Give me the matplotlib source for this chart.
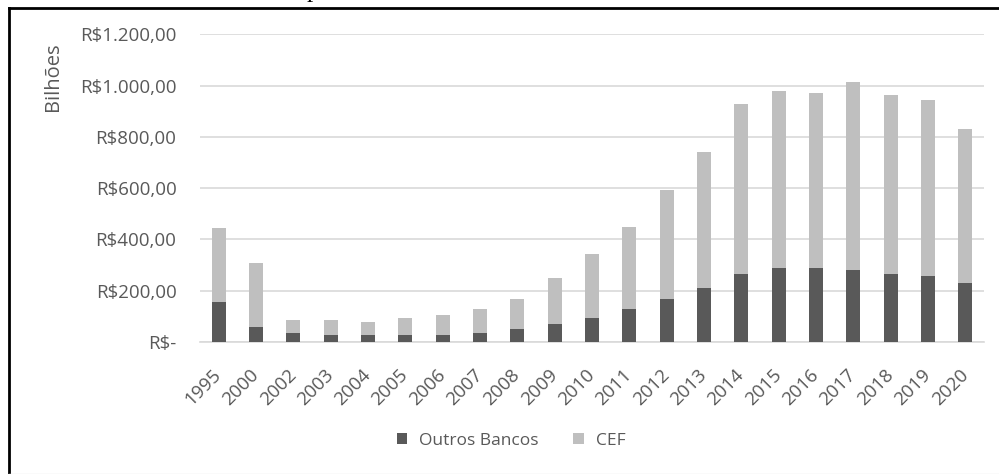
import matplotlib.pyplot as plt
import numpy as np
from matplotlib.lines import Line2D
from matplotlib.ticker import FuncFormatter

anos = ['1995', '2000', '2002', '2003', '2004', '2005', '2006', '2007', '2008', '2009', '2010',
        '2011', '2012', '2013', '2014', '2015', '2016', '2017', '2018', '2019', '2020']
outros_bancos = [155, 57, 36, 28, 28, 28, 28, 36, 51, 71, 92,
                 127, 168, 210, 265, 287, 287, 279, 265, 258, 231]
total = [443, 308, 85, 85, 77, 92, 105, 127, 168, 251, 342,
         449, 591, 741, 928, 978, 971, 1013, 963, 944, 832]
cef = [t - o for t, o in zip(total, outros_bancos)]

plt.rcParams['font.family'] = ['Open Sans', 'DejaVu Sans']
cinza_txt = '#595959'
fs = 13.5

fig = plt.figure(figsize=(9.99, 4.74), dpi=100)
ax = fig.add_axes([200 / 999, 1 - 342 / 474, 784 / 999, (342 - 34.3) / 474])

x = np.arange(len(anos))
ax.bar(x, outros_bancos, width=0.37, color='#595959', label='Outros Bancos', zorder=3)
ax.bar(x, cef, width=0.37, bottom=outros_bancos, color='#bfbfbf', label='CEF', zorder=3)

ax.set_xlim(-0.5, len(anos) - 0.5)
ax.set_ylim(0, 1200)
ax.set_yticks(range(0, 1201, 200))


def reais(v, pos):
    if v == 0:
        return 'R$-'
    s = f'{v:,.2f}'.replace(',', 'X').replace('.', ',').replace('X', '.')
    return 'R$' + s


ax.yaxis.set_major_formatter(FuncFormatter(reais))
ax.grid(axis='y', color='#d9d9d9', linewidth=1.2, zorder=0)
for s in ['top', 'right', 'left']:
    ax.spines[s].set_visible(False)
ax.spines['bottom'].set_color('#d9d9d9')
ax.spines['bottom'].set_linewidth(1.2)
ax.tick_params(length=0, colors=cinza_txt, labelsize=fs)
ax.tick_params(axis='y', pad=17, labelsize=13.5)
ax.set_xticks(x)
ax.set_xticklabels(anos, rotation=45, ha='right', va='center', rotation_mode='anchor')
ax.tick_params(axis='x', pad=22)

fig.text(53 / 999, 1 - 77 / 474, 'Bilhões', rotation=90, ha='center', va='center',
         color=cinza_txt, fontsize=14.5)

fig.legend(loc='center', bbox_to_anchor=(511 / 999, 1 - 441 / 474), ncol=2, frameon=False,
           fontsize=12.5, labelcolor=cinza_txt, handlelength=0.6, handleheight=0.6,
           columnspacing=2.0, handletextpad=0.7)

# moldura da figura
fig.add_artist(Line2D([9 / 999, 1], [1 - 8 / 474, 1 - 8 / 474], color='black', linewidth=2))
fig.add_artist(Line2D([9 / 999, 9 / 999], [0, 1 - 8 / 474], color='black', linewidth=2))
fig.add_artist(Line2D([9 / 999, 1], [0.5 / 474, 0.5 / 474], color='#e6e6e6', linewidth=1))
fig.text(313 / 999, 1 + 3 / 474, 'p', family='Liberation Serif', fontsize=18, ha='center',
         va='baseline', color='black')

fig.savefig('out.png', dpi=100)
